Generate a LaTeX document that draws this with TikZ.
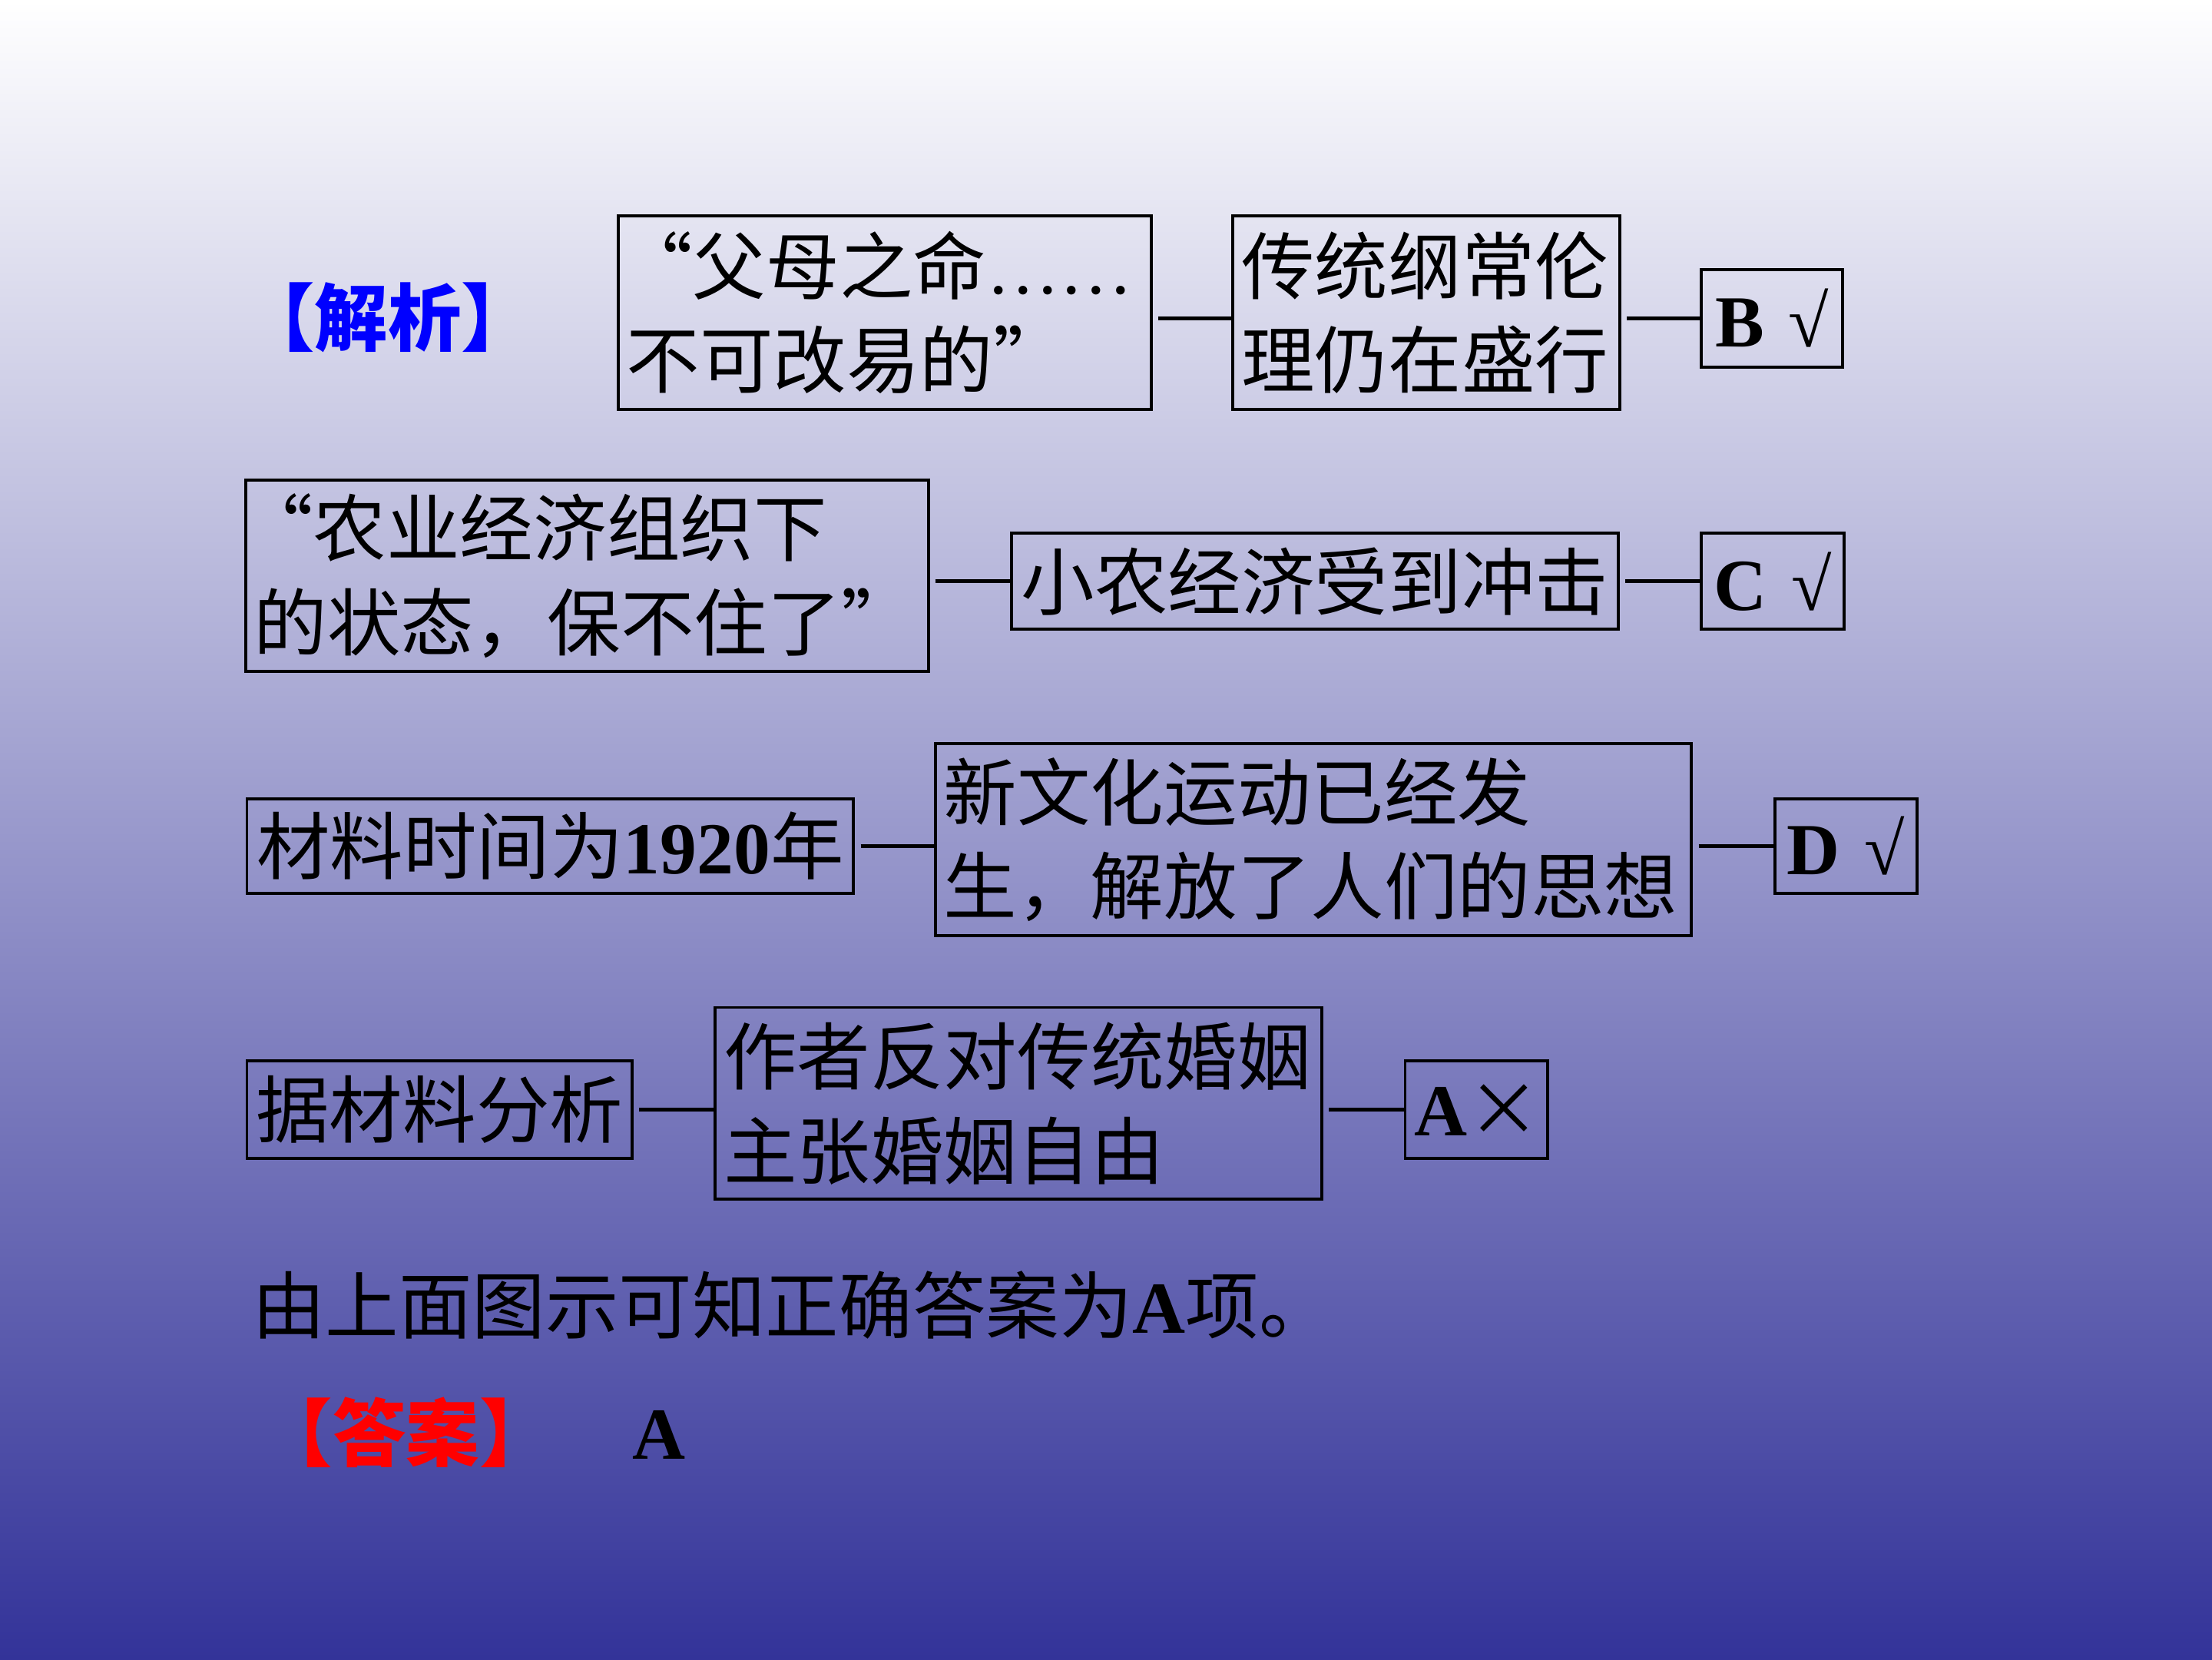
\documentclass[tikz,border=0pt]{standalone}
\usepackage{fontspec}
\setmainfont{Liberation Serif}
\newfontfamily\cjk{Noto Sans CJK SC}
\definecolor{slideblue}{RGB}{51,51,153}
\definecolor{slidemid}{RGB}{178,178,212}
\newcommand{\lat}[1]{{\rmfamily\bfseries #1}}
\tikzset{
  box/.style={draw, line width=.6pt, inner sep=.6mm, anchor=north west,
    font=\cjk\fontsize{14.8}{19}\selectfont, align=left},
  mark box/.style={box, align=center, text width=8.8mm},
  link/.style={line width=.8pt, shorten <=.4mm}
}
\begin{document}
\begin{tikzpicture}[x=.1mm, y=-.1mm]
\useasboundingbox (0,0) rectangle (1568,1176);
\shade[top color=white, middle color=slidemid, bottom color=slideblue] (0,0) rectangle (1568,1176);

\node[text=blue, font=\cjk\bfseries\fontsize{14.8}{19}\selectfont] (jiexi) at (275,225) {【解析】};

% row 1
\node[box, minimum width=37.8mm, minimum height=13.7mm, text width=36.6mm] (fumu) at (437,152) {\hspace{-.5mm}“父母之命{\rmfamily ……}\\不可改易的”};
\node[box, minimum width=27.4mm, minimum height=13.7mm, text width=26.2mm] (gangchang) at (873,152) {传统纲常伦\\理仍在盛行};
\node[mark box, minimum width=9.9mm, minimum height=6.9mm] (optB) at (1205,190) {\lat{B √}};
\draw[link] (fumu.east |- optB.west) -- (gangchang.west |- optB.west);
\draw[link] (gangchang.east |- optB.west) -- (optB.west);

% row 2
\node[box, minimum width=48.4mm, minimum height=13.6mm, text width=47.2mm] (nongye) at (173,339) {\hspace{-1mm}“农业经济组织下\\的状态，保不住了”};
\node[box, minimum width=43mm, minimum height=6.8mm, align=center, text width=41.8mm] (xiaonong) at (716,377) {小农经济受到冲击};
\node[mark box, minimum width=10.1mm, minimum height=6.8mm] (optC) at (1205,377) {\lat{C √}};
\draw[link] (nongye.east |- xiaonong.west) -- (xiaonong.west);
\draw[link] (xiaonong.east) -- (optC.west);

% row 3
\node[box, minimum width=43mm, minimum height=6.7mm, align=center, text width=41.8mm] (shijian) at (174,565) {材料时间为\lat{1920}年};
\node[box, minimum width=53.6mm, minimum height=13.6mm, text width=52.4mm] (xinwenhua) at (662,526) {新文化运动已经发\\生，解放了人们的思想};
\node[mark box, minimum width=10.1mm, minimum height=6.7mm] (optD) at (1257,565) {\lat{D √}};
\draw[link] (shijian.east) -- (xinwenhua.west |- shijian.east);
\draw[link] (xinwenhua.east |- optD.west) -- (optD.west);

% row 4
\node[box, minimum width=27.3mm, minimum height=6.9mm, align=center, text width=26.1mm] (fenxi) at (174,751) {据材料分析};
\node[box, minimum width=43mm, minimum height=13.6mm, text width=41.8mm] (hunyin) at (506,713) {作者反对传统婚姻\\主张婚姻自由};
\node[mark box, minimum width=10.1mm, minimum height=6.9mm] (optA) at (995,751) {\lat{A}×};
\draw[link] (fenxi.east) -- (hunyin.west |- fenxi.east);
\draw[link] (hunyin.east |- optA.west) -- (optA.west);

\node[anchor=west, inner sep=0, font=\cjk\fontsize{14.8}{19}\selectfont] (jielun) at (178,925) {由上面图示可知正确答案为\lat{A}项。};
\node[text=red, font=\cjk\bfseries\fontsize{14.8}{19}\selectfont] (daan) at (288,1015) {【答案】};
\node[font=\rmfamily\bfseries\fontsize{14.8}{19}\selectfont] (daanA) at (467,1017) {A};
\end{tikzpicture}
\end{document}
